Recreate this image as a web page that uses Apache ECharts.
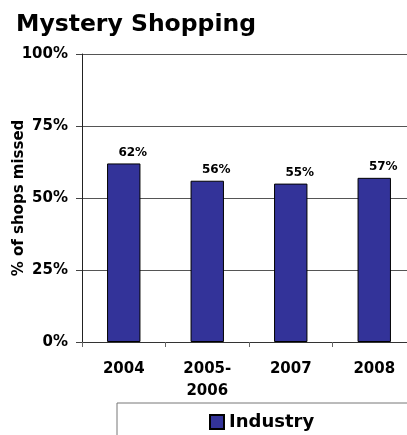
<!DOCTYPE html>
<html>
<head>
<meta charset="utf-8">
<script src="https://cdn.jsdelivr.net/npm/echarts@6/dist/echarts.min.js"></script>
<style>
  html, body { margin: 0; padding: 0; background: #fff; }
  #chart { width: 407px; height: 435px; }
</style>
</head>
<body>
<div id="chart"></div>
<script>
// Share of mystery shops missed, by survey period
const categories = ['2004', '2005-\n2006', '2007', '2008'];
const industryValues = [62, 56, 55, 57];
const yTicks = { min: 0, max: 100, interval: 25 };

const FONT = 'DejaVu Sans';
const BAR_COLOR = '#333399';

const chart = echarts.init(document.getElementById('chart'), null, { renderer: 'canvas' });

chart.setOption({
  backgroundColor: '#ffffff',
  animation: false,
  title: {
    text: 'Mystery Shopping',
    left: 11,
    top: 8,
    textStyle: { fontFamily: FONT, fontWeight: 'bold', fontSize: 23.5, color: '#000' }
  },
  legend: {
    data: ['Industry'],
    left: 117,
    top: 403,
    padding: [10, 160, 30, 92],
    borderColor: '#777',
    borderWidth: 1,
    icon: 'rect',
    itemWidth: 14,
    itemHeight: 14,
    itemGap: 6,
    textStyle: { fontFamily: FONT, fontWeight: 'bold', fontSize: 18, color: '#000' }
  },
  grid: { left: 82, top: 54, width: 334, height: 288, containLabel: false, outerBoundsMode: 'none' },
  xAxis: {
    type: 'category',
    data: categories,
    axisLine: { show: true, lineStyle: { color: '#333', width: 1 } },
    axisTick: { show: true, length: 5, alignWithLabel: false, lineStyle: { color: '#666' } },
    axisLabel: {
      fontFamily: FONT, fontWeight: 'bold', fontSize: 15, color: '#000',
      margin: 16, lineHeight: 22, interval: 0
    },
    splitLine: { show: false }
  },
  yAxis: {
    type: 'value',
    min: yTicks.min,
    max: yTicks.max,
    interval: yTicks.interval,
    name: '% of shops missed',
    nameLocation: 'middle',
    nameGap: 55,
    nameMoveOverlap: false,
    nameTextStyle: { fontFamily: FONT, fontWeight: 'bold', fontSize: 15, color: '#000' },
    axisLine: { show: true, lineStyle: { color: '#222', width: 1 } },
    axisTick: { show: true, length: 6, lineStyle: { color: '#444' } },
    axisLabel: {
      formatter: '{value}%',
      fontFamily: FONT, fontWeight: 'bold', fontSize: 15, color: '#000', margin: 14
    },
    splitLine: { show: true, lineStyle: { color: '#555', width: 1 } }
  },
  series: [{
    name: 'Industry',
    type: 'bar',
    data: industryValues,
    barWidth: '40%',
    itemStyle: { color: BAR_COLOR, borderColor: '#000', borderWidth: 1 },
    label: {
      show: true,
      position: 'top',
      distance: 5,
      offset: [9, 0],
      formatter: '{c}%',
      fontFamily: FONT, fontWeight: 'bold', fontSize: 12, color: '#000'
    }
  }]
});
</script>
</body>
</html>
